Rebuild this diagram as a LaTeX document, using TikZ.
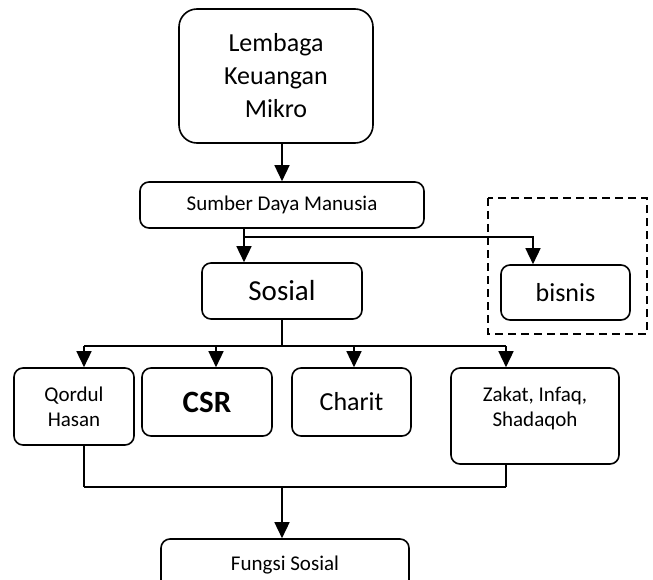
\documentclass[tikz,border=0pt]{standalone}
\usepackage{fontspec}
\setmainfont{Carlito}
\usetikzlibrary{arrows.meta,positioning}

\begin{document}
\begin{tikzpicture}[x=1pt,y=-1pt]
		\tikzstyle{Box}		= [rectangle, draw, rounded corners=9pt, line width=1.6pt, inner sep=0pt, align=center]
		\tikzstyle{Big}		= [Box, rounded corners=18pt]
		\tikzstyle{Group}	= [line width=1.6pt, dash pattern=on 8pt off 5pt]
		\tikzstyle{Link}	= [line width=1.5pt]
		\tikzstyle{Flow}	= [Link, -{Triangle[length=16pt,width=15pt]}]

		\useasboundingbox (0,0) rectangle (653,580);
		\clip (0,0) rectangle (653,580);

		\node (lkm) at (276,76) [Big, minimum width=194pt, minimum height=134pt, font=\fontsize{26}{33}\selectfont] {Lembaga\\Keuangan\\Mikro};
		\node (sdm) at (282,205) [Box, minimum width=284pt, minimum height=46pt, font=\fontsize{21}{25}\selectfont] {Sumber Daya Manusia};
		\node (sosial) at (282,291) [Box, minimum width=160pt, minimum height=56pt, font=\fontsize{29}{35}\selectfont] {Sosial};
		\node (bisnis) at (565.5,292.5) [Box, minimum width=129pt, minimum height=55pt, font=\fontsize{26}{31}\selectfont] {bisnis};
		\draw [Group] (488,198) rectangle (647,334);

		\node (qordul) at (74,406.5) [Box, minimum width=120pt, minimum height=77pt, font=\fontsize{21}{25}\selectfont] {Qordul\\Hasan};
		\node (csr) at (207,402) [Box, minimum width=130pt, minimum height=68pt, font=\fontsize{31}{37}\selectfont\bfseries] {CSR};
		\node (charit) at (351.5,402) [Box, minimum width=119pt, minimum height=68pt, font=\fontsize{26}{31}\selectfont] {Charit};
		\node (zakat) at (535,416) [Box, minimum width=168pt, minimum height=96pt] {};
		\node (zakattext) at (535,408) [align=center, font=\fontsize{21}{25}\selectfont] {Zakat, Infaq,\\Shadaqoh};
		\node (fungsi) at (285,565) [Box, minimum width=248pt, minimum height=52pt, font=\fontsize{21}{25}\selectfont] {Fungsi Sosial};

		% top part
		\draw [Flow] (lkm.south -| sdm.north) to (sdm.north);
		\coordinate (split) at (244,237);
		\coordinate (bsplit) at (533,237);
		\draw [Link] (sdm.south -| split) to (split);
		\draw [Flow] (split) to (split |- sosial.north);
		\draw [Flow] (split) -- (bsplit) -- (bsplit |- bisnis.north);

		% branches of Sosial
		\coordinate (qtop) at (84,346);
		\coordinate (ctop) at (216,346);
		\coordinate (htop) at (354,346);
		\coordinate (ztop) at (506,346);
		\draw [Link] (sosial.south) to (sosial.south |- qtop);
		\draw [Link] (qtop) to (ztop);
		\draw [Flow] (qtop) to (qtop |- qordul.north);
		\draw [Flow] (ctop) to (ctop |- csr.north);
		\draw [Flow] (htop) to (htop |- charit.north);
		\draw [Flow] (ztop) to (ztop |- zakat.north);

		% joining into Fungsi Sosial
		\coordinate (qbot) at (84,487);
		\coordinate (zbot) at (506,487);
		\coordinate (mid) at (282,487);
		\draw [Link] (qordul.south -| qbot) to (qbot);
		\draw [Link] (csr.south -| ctop) to (csr.south -| ctop |- qbot);
		\draw [Link] (charit.south -| htop) to (charit.south -| htop |- qbot);
		\draw [Link] (zakat.south -| zbot) to (zbot);
		\draw [Link] (qbot) to (zbot);
		\draw [Flow] (mid) to (mid |- fungsi.north);
	\end{tikzpicture}
\end{document}
